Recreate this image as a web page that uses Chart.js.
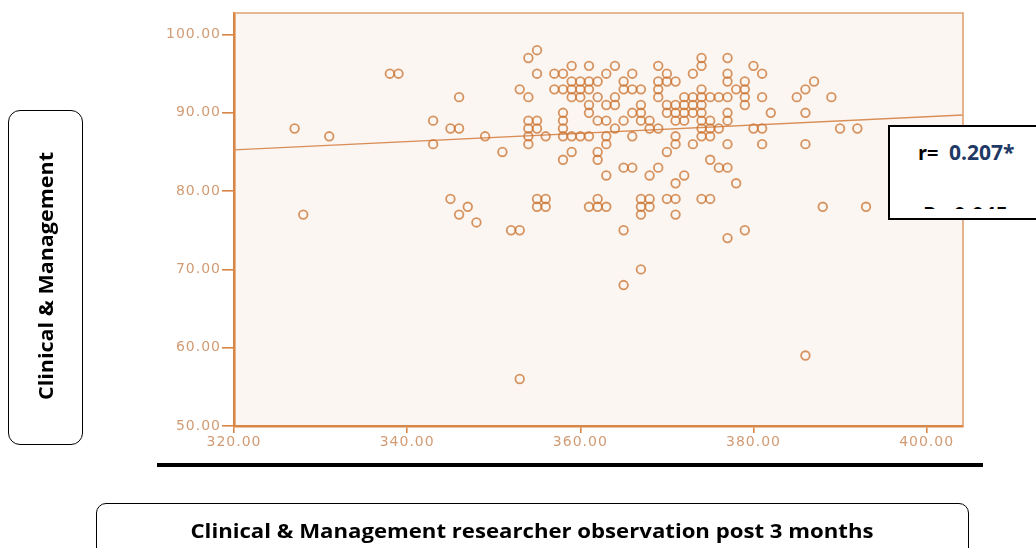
<!DOCTYPE html>
<html>
<head>
<meta charset="utf-8">
<script src="https://cdn.jsdelivr.net/npm/chart.js@4.4.1/dist/chart.umd.min.js"></script>
<style>
  html, body { margin:0; padding:0; background:#fff; }
  #wrap { position:relative; width:1036px; height:548px; overflow:hidden; }
  #chart { position:absolute; left:0; top:0; }
  .box { position:absolute; border:1.5px solid #000; box-sizing:border-box; background:transparent; }
  .lbl { position:absolute; white-space:nowrap; font-family:'Open Sans', sans-serif; font-weight:700; color:#000; line-height:1; }
</style>
</head>
<body>
<div id="wrap">
  <canvas id="chart" width="1036" height="548"></canvas>

  <div class="box" style="left:8px; top:110px; width:75px; height:335px; border-radius:12px;"></div>
  <div class="lbl" id="ytitle" style="font-size:20px;">Clinical &amp; Management</div>

  <div style="position:absolute; left:157px; top:463px; width:826px; height:4px; background:#000;"></div>

  <div class="box" style="left:96px; top:503px; width:873px; height:80px; border-radius:10px;"></div>
  <div class="lbl" id="xtitle" style="font-size:20px;">Clinical &amp; Management researcher observation post 3 months</div>

  <div style="position:absolute; left:888px; top:125px; width:170px; height:95px; background:#fff; border:2px solid #000; box-sizing:border-box;">
    <div style="position:absolute; left:0; top:0; right:0; height:82px; overflow:hidden;">
      <div class="lbl" style="left:28px; top:15px; font-size:20px;">r=&nbsp;&nbsp;<span id="rval" style="color:#1F3864; font-size:21px;">0.207*</span></div>
      <div class="lbl" style="left:33px; top:77px; font-size:21px;">P=&nbsp;0.045</div>
    </div>
  </div>
</div>

<script>
// ---- data ----
const xTickValues = [320, 340, 360, 380, 400];
const yTickValues = [50, 60, 70, 80, 90, 100];

// researcher observation score (x) and clinical & management score (y)
const researcherScore = [
  327,328,331,338,339,343,343,345,346,346,345,346,347,348,349,351,352,353,353,353,
  355,
  354,374,377,
  359,361,364,369,374,380,
  355,357,358,363,366,370,373,377,381,
  359,360,361,362,365,369,370,371,377,379,387,
  357,358,359,360,361,365,366,367,369,374,378,379,386,
  354,359,360,362,364,369,372,373,374,375,376,377,379,381,385,389,
  361,363,364,367,370,371,372,373,374,379,
  358,361,366,367,370,371,372,373,374,377,382,386,
  354,355,358,362,363,365,367,368,371,372,374,375,377,
  354,355,358,364,368,369,374,375,376,380,381,390,392,
  354,356,358,359,360,361,363,366,371,374,375,
  354,363,371,373,377,381,386,
  359,362,370,
  358,362,375,
  365,366,369,376,377,
  363,368,372,
  371,378,
  355,356,362,367,368,370,371,374,375,
  355,356,361,362,363,367,368,388,393,
  367,371,
  365,379,
  377,
  367,
  365,
  386
];
const clinicalScore = [
  88,77,87,95,95,89,86,88,88,92,79,77,78,76,87,85,75,75,56,93,
  98,
  97,97,97,
  96,96,96,96,96,96,
  95,95,95,95,95,95,95,95,95,
  94,94,94,94,94,94,94,94,94,94,94,
  93,93,93,93,93,93,93,93,93,93,93,93,93,
  92,92,92,92,92,92,92,92,92,92,92,92,92,92,92,92,
  91,91,91,91,91,91,91,91,91,91,
  90,90,90,90,90,90,90,90,90,90,90,90,
  89,89,89,89,89,89,89,89,89,89,89,89,89,
  88,88,88,88,88,88,88,88,88,88,88,88,88,
  87,87,87,87,87,87,87,87,87,87,87,
  86,86,86,86,86,86,86,
  85,85,85,
  84,84,84,
  83,83,83,83,83,
  82,82,82,
  81,81,
  79,79,79,79,79,79,79,79,79,
  78,78,78,78,78,78,78,78,78,
  77,77,
  75,75,
  74,
  70,
  68,
  59
];

// fit line (ends at the plot edges)
const fitX = [320, 404.2];
const fitY = [85.26, 89.72];

const xMin = 320, xMax = 404.2, yMin = 50, yMax = 102.75;

// ---- styling ----
const axisColor = '#D88646';
const tickLabelColor = '#D19B74';
const pointColor = 'rgba(204,116,48,0.76)';

const points = researcherScore.map((x, i) => ({ x: x, y: clinicalScore[i] }));
const fitLine = fitX.map((x, i) => ({ x: x, y: fitY[i] }));

const plotFrame = {
  id: 'plotFrame',
  beforeDraw(chart) {
    const { ctx, chartArea: a } = chart;
    ctx.save();
    ctx.fillStyle = '#FBF6F2';
    ctx.fillRect(a.left, a.top, a.right - a.left, a.bottom - a.top);
    ctx.restore();
    ctx.letterSpacing = '1px';
  },
  afterDraw(chart) {
    const { ctx, chartArea: a } = chart;
    ctx.save();
    ctx.strokeStyle = '#E0A274';
    ctx.lineWidth = 1.6;
    ctx.beginPath();
    ctx.moveTo(a.left, a.top);
    ctx.lineTo(a.right, a.top);
    ctx.lineTo(a.right, a.bottom);
    ctx.stroke();
    ctx.restore();
  }
};

const tickFont = { family: "'DejaVu Sans', sans-serif", size: 14 };

new Chart(document.getElementById('chart'), {
  type: 'scatter',
  data: {
    datasets: [
      {
        label: 'fit',
        type: 'line',
        data: fitLine,
        showLine: true,
        borderColor: '#D98E58',
        borderWidth: 1.3,
        pointRadius: 0,
        fill: false,
        order: 2
      },
      {
        label: 'observations',
        data: points,
        pointStyle: 'circle',
        pointRadius: 4.3,
        pointBorderWidth: 1.8,
        borderColor: pointColor,
        backgroundColor: 'rgba(0,0,0,0)',
        order: 1
      }
    ]
  },
  plugins: [plotFrame],
  options: {
    responsive: false,
    devicePixelRatio: 1,
    animation: false,
    layout: { padding: { left: 0, right: 73, top: 13, bottom: 92 } },
    plugins: { legend: { display: false }, tooltip: { enabled: false } },
    scales: {
      x: {
        type: 'linear', min: xMin, max: xMax, position: 'bottom',
        afterBuildTicks: s => { s.ticks = xTickValues.map(v => ({ value: v })); },
        afterFit: s => { s.height = 30; },
        ticks: { callback: v => Number(v).toFixed(2), color: tickLabelColor, font: tickFont, padding: 1, maxRotation: 0, autoSkip: false },
        grid: { display: true, drawOnChartArea: false, drawTicks: true, tickLength: 7, color: axisColor, tickColor: axisColor, lineWidth: 1.6 },
        border: { display: true, color: axisColor, width: 2.6 }
      },
      y: {
        type: 'linear', min: yMin, max: yMax, position: 'left',
        afterBuildTicks: s => { s.ticks = yTickValues.map(v => ({ value: v })); },
        afterFit: s => { s.width = 234; },
        ticks: { callback: v => Number(v).toFixed(2), color: tickLabelColor, font: tickFont, padding: 1, autoSkip: false },
        grid: { display: true, drawOnChartArea: false, drawTicks: true, tickLength: 12, color: axisColor, tickColor: axisColor, lineWidth: 1.6 },
        border: { display: true, color: axisColor, width: 2.6 }
      }
    }
  }
});

// ---- fit titles to the widths in the reference ----
function placeText(id, cx, cy, targetW, rotate) {
  const el = document.getElementById(id);
  const w = el.getBoundingClientRect().width;
  const s = targetW / w;
  el.style.left = cx + 'px';
  el.style.top = cy + 'px';
  el.style.transform = 'translate(-50%,-50%)' + (rotate ? ' rotate(-90deg)' : '') + ' scaleX(' + s.toFixed(4) + ')';
}
placeText('ytitle', 46, 276, 248, true);
placeText('xtitle', 532, 531, 683, false);
</script>
</body>
</html>
